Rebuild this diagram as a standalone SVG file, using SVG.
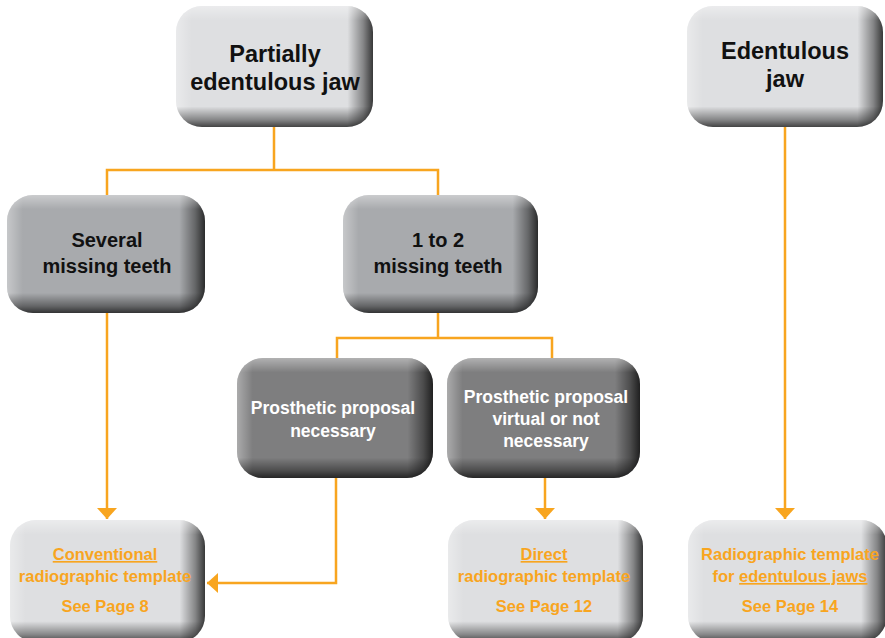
<svg xmlns="http://www.w3.org/2000/svg" width="885" height="638" viewBox="0 0 885 638">
<style>
.lt{fill:#DEDFE1}
.md{fill:#A8AAAD}
.dk{fill:#7E7E7F}
.t{font-family:"Liberation Sans",Arial,sans-serif;font-weight:bold;text-anchor:middle}
.blk{fill:#111}
.wht{fill:#fff}
.org{fill:#F8A51F}
.con{fill:none;stroke:#F8A51F;stroke-width:2.5}
</style>
<defs>
<linearGradient id="sx" x1="0" y1="0" x2="1" y2="0">
<stop offset="0" stop-color="#fff" stop-opacity="0.35"/>
<stop offset="0.08" stop-color="#fff" stop-opacity="0"/>
<stop offset="0.87" stop-color="#000" stop-opacity="0"/>
<stop offset="0.95" stop-color="#000" stop-opacity="0.4"/>
<stop offset="1" stop-color="#000" stop-opacity="0.75"/>
</linearGradient>
<linearGradient id="sy" x1="0" y1="0" x2="0" y2="1">
<stop offset="0" stop-color="#fff" stop-opacity="0.4"/>
<stop offset="0.12" stop-color="#fff" stop-opacity="0"/>
<stop offset="0.83" stop-color="#000" stop-opacity="0"/>
<stop offset="0.94" stop-color="#000" stop-opacity="0.4"/>
<stop offset="1" stop-color="#000" stop-opacity="0.7"/>
</linearGradient>
<marker id="ah" viewBox="0 -10 11 20" refX="11" refY="0" markerWidth="11" markerHeight="20" markerUnits="userSpaceOnUse" orient="auto">
<path d="M0,-10 L11,0 L0,10 Z" fill="#F8A51F"/>
</marker>
</defs>

<g id="connectors">
<path class="con" d="M274,127 V170 M107,195 V170 H438 V195"/>
<path class="con" d="M438,313 V338 M337,358 V338 H552 V358"/>
<path class="con" d="M107,313 V519" marker-end="url(#ah)"/>
<path class="con" d="M336,478 V583 H207" marker-end="url(#ah)"/>
<path class="con" d="M545,478 V519" marker-end="url(#ah)"/>
<path class="con" d="M785,127 V519" marker-end="url(#ah)"/>
</g>

<g id="partially-edentulous">
<rect class="lt" x="176" y="6" width="197" height="121" rx="26"/>
<rect fill="url(#sx)" x="176" y="6" width="197" height="121" rx="26"/>
<rect fill="url(#sy)" x="176" y="6" width="197" height="121" rx="26"/>
<text class="t blk" font-size="23.5" x="275" y="62">Partially</text>
<text class="t blk" font-size="23.5" x="275" y="90">edentulous jaw</text>
</g>

<g id="edentulous">
<rect class="lt" x="687" y="6" width="196" height="121" rx="26"/>
<rect fill="url(#sx)" x="687" y="6" width="196" height="121" rx="26"/>
<rect fill="url(#sy)" x="687" y="6" width="196" height="121" rx="26"/>
<text class="t blk" font-size="23.5" x="785" y="59">Edentulous</text>
<text class="t blk" font-size="23.5" x="785" y="87">jaw</text>
</g>

<g id="several">
<rect class="md" x="7" y="195" width="198" height="118" rx="26"/>
<rect fill="url(#sx)" x="7" y="195" width="198" height="118" rx="26"/>
<rect fill="url(#sy)" x="7" y="195" width="198" height="118" rx="26"/>
<text class="t blk" font-size="20" x="107" y="247">Several</text>
<text class="t blk" font-size="20" x="107" y="273">missing teeth</text>
</g>

<g id="one-two">
<rect class="md" x="343" y="195" width="195" height="118" rx="26"/>
<rect fill="url(#sx)" x="343" y="195" width="195" height="118" rx="26"/>
<rect fill="url(#sy)" x="343" y="195" width="195" height="118" rx="26"/>
<text class="t blk" font-size="20" x="438" y="247">1 to 2</text>
<text class="t blk" font-size="20" x="438" y="273">missing teeth</text>
</g>

<g id="prosthetic-necessary">
<rect class="dk" x="237" y="358" width="196" height="120" rx="26"/>
<rect fill="url(#sx)" x="237" y="358" width="196" height="120" rx="26"/>
<rect fill="url(#sy)" x="237" y="358" width="196" height="120" rx="26"/>
<text class="t wht" font-size="17.5" x="333" y="414">Prosthetic proposal</text>
<text class="t wht" font-size="17.5" x="333" y="437">necessary</text>
</g>

<g id="prosthetic-virtual">
<rect class="dk" x="447" y="358" width="193" height="120" rx="26"/>
<rect fill="url(#sx)" x="447" y="358" width="193" height="120" rx="26"/>
<rect fill="url(#sy)" x="447" y="358" width="193" height="120" rx="26"/>
<text class="t wht" font-size="17.5" x="546" y="403">Prosthetic proposal</text>
<text class="t wht" font-size="17.5" x="546" y="425">virtual or not</text>
<text class="t wht" font-size="17.5" x="546" y="447">necessary</text>
</g>

<g id="conventional">
<rect class="lt" x="10" y="520" width="195" height="122" rx="26"/>
<rect fill="url(#sx)" x="10" y="520" width="195" height="122" rx="26"/>
<rect fill="url(#sy)" x="10" y="520" width="195" height="122" rx="26"/>
<text class="t org" font-size="16.5" x="105" y="560" text-decoration="underline">Conventional</text>
<text class="t org" font-size="16.5" x="105" y="582">radiographic template</text>
<text class="t org" font-size="16.5" x="105" y="612">See Page 8</text>
</g>

<g id="direct">
<rect class="lt" x="448" y="520" width="195" height="122" rx="26"/>
<rect fill="url(#sx)" x="448" y="520" width="195" height="122" rx="26"/>
<rect fill="url(#sy)" x="448" y="520" width="195" height="122" rx="26"/>
<text class="t org" font-size="16.5" x="544" y="560" text-decoration="underline">Direct</text>
<text class="t org" font-size="16.5" x="544" y="582">radiographic template</text>
<text class="t org" font-size="16.5" x="544" y="612">See Page 12</text>
</g>

<g id="edentulous-template">
<rect class="lt" x="688" y="520" width="199" height="122" rx="26"/>
<rect fill="url(#sx)" x="688" y="520" width="199" height="122" rx="26"/>
<rect fill="url(#sy)" x="688" y="520" width="199" height="122" rx="26"/>
<text class="t org" font-size="16.5" x="790" y="560">Radiographic template</text>
<text class="t org" font-size="16.5" x="790" y="582">for <tspan text-decoration="underline">edentulous jaws</tspan></text>
<text class="t org" font-size="16.5" x="790" y="612">See Page 14</text>
</g>
</svg>
